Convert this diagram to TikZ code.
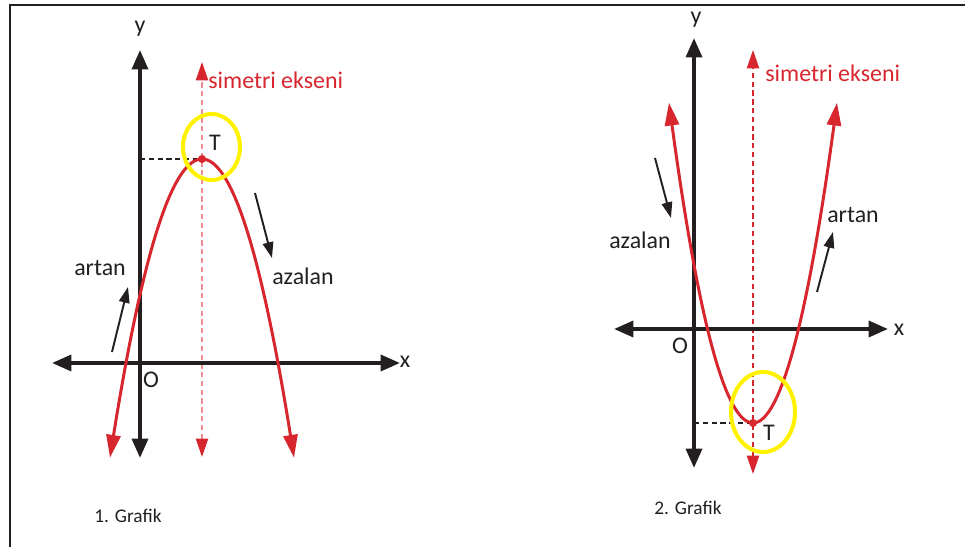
\documentclass[tikz,border=0pt]{standalone}
\usepackage{fontspec}
\setmainfont{Carlito}
\usetikzlibrary{arrows.meta, positioning}
\definecolor{ink}{HTML}{231F20}
\definecolor{curvered}{HTML}{D7262E}
\definecolor{axispink}{HTML}{EE8C92}
\definecolor{ringyellow}{HTML}{FFF200}
\tikzset{
    axis/.style={ink, line width=2.2pt, {Triangle[length=11pt, width=9pt]}-{Triangle[length=11pt, width=9pt]}},
    curve/.style={curvered, line width=1.7pt, {Triangle[length=13pt, width=8pt]}-{Triangle[length=13pt, width=8pt]}},
    symaxis/.style={line width=0.8pt, dash pattern=on 3pt off 2pt, {Triangle[length=10.5pt, width=7pt]}-{Triangle[length=10.5pt, width=7pt]}},
    hint/.style={ink, line width=1.1pt, -{Triangle[length=9pt, width=6pt]}},
    guide/.style={ink, line width=0.6pt, dash pattern=on 3pt off 2pt},
    ring/.style={ringyellow, line width=2.3pt},
    lbl/.style={ink, font=\fontsize{13.6}{16}\selectfont, inner sep=0pt},
    redlbl/.style={curvered, font=\fontsize{13.6}{16}\selectfont, inner sep=0pt, anchor=west},
    caption/.style={ink, font=\fontsize{11}{13}\selectfont, inner sep=0pt},
}

\begin{document}
\begin{tikzpicture}[x=0.02cm, y=-0.02cm]
\useasboundingbox (0,0) rectangle (965,547);

% ── frame ──
\draw[ink, line width=0.6pt] (10,547) -- (10,5) -- (965,5);

% ── 1. Grafik ──
\coordinate (y1b) at (140,458);
\coordinate (y1t) at (140,50);
\coordinate (x1l) at (52,363);
\coordinate (x1r) at (400,363);
\coordinate (s1b) at (202,457);
\coordinate (s1t) at (202,62);
\coordinate (T1) at (202,159);
\coordinate (ty1) at (140,159);

\draw[symaxis, axispink, {Triangle[length=10.5pt, width=7pt, curvered]}-{Triangle[length=10.5pt, width=7pt, curvered]}] (s1b) -- (s1t);
\draw[axis] (x1l) -- (x1r);
\draw[axis] (y1b) -- (y1t);
\draw[guide] (ty1) -- (T1);
\draw[curve] plot[domain=-92:92, samples=60] ({202+\x}, {159+0.0353*\x*\x});
\fill[curvered] (T1) circle (2.3pt);
\draw[ring] (211.5,147) ellipse [x radius=0.57cm, y radius=0.66cm];

\node[lbl] (ylab1) at (140,29) {y};
\node[lbl] (xlab1) at (405,362) {x};
\node[lbl] (o1) at (151,380) {O};
\node[lbl] (tlab1) at (215,143) {T};
\node[redlbl] (sym1) at (208,80) {simetri ekseni};
\node[lbl] (artan1) at (100,268) {artan};
\node[lbl] (azalan1) at (303,276) {azalan};
\node[caption] (cap1) at (128,516) {1. Grafik};

\coordinate (a1s) at (112,352);
\coordinate (a1e) at (128,287);
\coordinate (z1s) at (255,193);
\coordinate (z1e) at (272,258);
\draw[hint] (a1s) -- (a1e);
\draw[hint] (z1s) -- (z1e);

% ── 2. Grafik ──
\coordinate (y2b) at (694,468);
\coordinate (y2t) at (694,38);
\coordinate (x2l) at (614,329);
\coordinate (x2r) at (888,329);
\coordinate (s2b) at (753,474);
\coordinate (s2t) at (753,50);
\coordinate (T2) at (753,423);
\coordinate (ty2) at (694,423);

\draw[symaxis, curvered] (s2b) -- (s2t);
\draw[axis] (x2l) -- (x2r);
\draw[axis] (y2b) -- (y2t);
\draw[guide] (ty2) -- (T2);
\draw[curve] plot[domain=-84:84, samples=60] ({753+\x}, {423-0.0454*\x*\x});
\fill[curvered] (T2) circle (2.3pt);
\draw[ring] (763,412) ellipse [x radius=0.64cm, y radius=0.80cm];

\node[lbl] (ylab2) at (696,20) {y};
\node[lbl] (xlab2) at (899,330) {x};
\node[lbl] (o2) at (680,346) {O};
\node[lbl] (tlab2) at (769,433) {T};
\node[redlbl] (sym2) at (765,73) {simetri ekseni};
\node[lbl] (azalan2) at (640,240) {azalan};
\node[lbl] (artan2) at (853,215) {artan};
\node[caption] (cap2) at (688,508) {2. Grafik};

\coordinate (z2s) at (655,158);
\coordinate (z2e) at (671,218);
\coordinate (a2s) at (817,292);
\coordinate (a2e) at (833,232);
\draw[hint] (z2s) -- (z2e);
\draw[hint] (a2s) -- (a2e);

\end{tikzpicture}
\end{document}
